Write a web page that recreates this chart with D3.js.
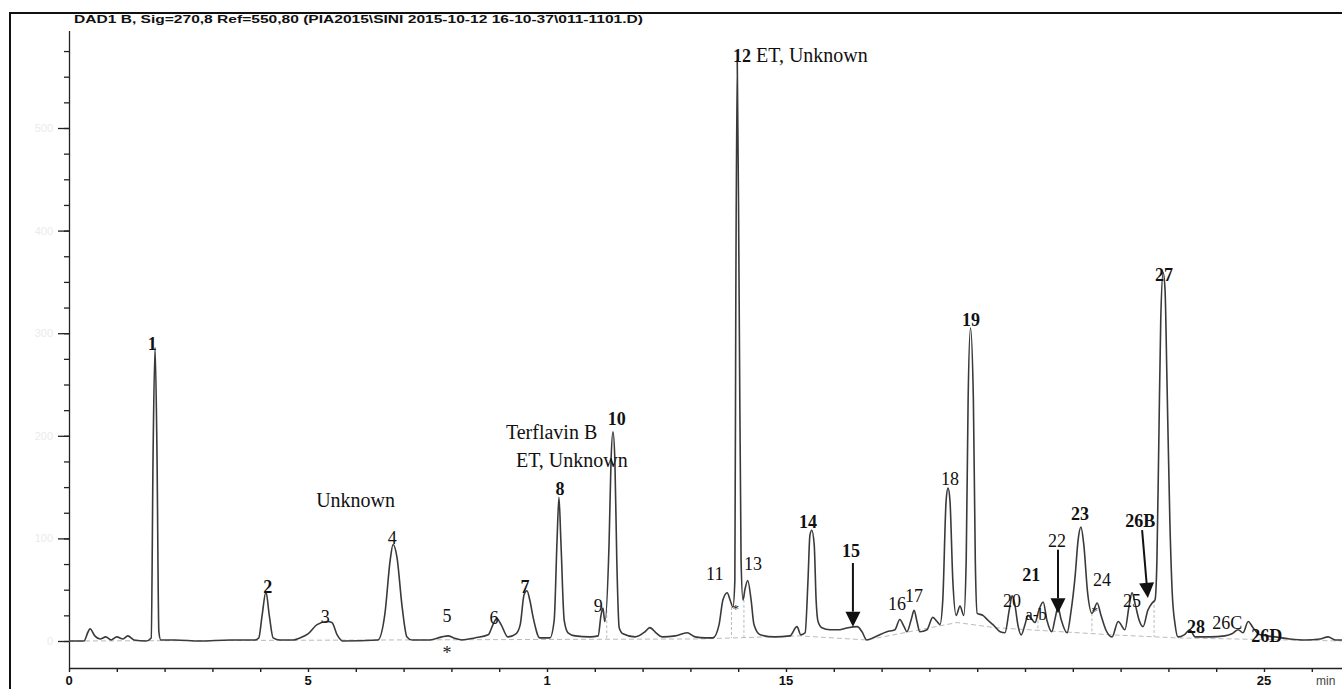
<!DOCTYPE html>
<html>
<head>
<meta charset="utf-8">
<script src="https://cdn.jsdelivr.net/npm/d3@7"></script>
<style>
  body { margin: 0; background: #fff; }
  svg { display: block; }
</style>
</head>
<body>
<script>
// chromatogram: retention time (min) / detector signal (mAU-ish, 100 per major tick)
var rt = [0, 0.31, 0.40, 0.44, 0.54, 0.65, 0.77, 0.88, 1.00, 1.13, 1.23, 1.36, 1.61, 1.72, 1.76, 1.80, 1.84, 1.88, 1.92, 2.22,
  2.74, 3.37, 3.89, 3.97, 4.04, 4.12, 4.19, 4.27, 4.41, 4.69, 4.83, 5.00, 5.19, 5.40, 5.50, 5.61, 5.73, 6.46, 6.61, 6.72,
  6.78, 6.86, 6.97, 7.07, 7.18, 7.55, 7.80, 7.93, 8.05, 8.22, 8.49, 8.77, 8.87, 8.95, 9.04, 9.18, 9.35, 9.44, 9.52, 9.58,
  9.64, 9.71, 9.85, 10.06, 10.15, 10.21, 10.25, 10.29, 10.36, 10.44, 10.59, 10.90, 11.07, 11.13, 11.17, 11.21, 11.30, 11.34, 11.38, 11.42,
  11.46, 11.51, 11.59, 11.84, 12.05, 12.15, 12.28, 12.41, 12.68, 12.93, 13.10, 13.31, 13.47, 13.60, 13.68, 13.77, 13.83, 13.89, 13.93, 13.95,
  13.98, 14.02, 14.06, 14.10, 14.14, 14.20, 14.27, 14.33, 14.46, 14.77, 15.08, 15.23, 15.31, 15.40, 15.46, 15.50, 15.54, 15.59, 15.63, 15.67,
  15.75, 15.92, 16.13, 16.30, 16.49, 16.59, 16.69, 16.86, 17.11, 17.28, 17.38, 17.47, 17.53, 17.62, 17.68, 17.74, 17.80, 17.95, 18.07, 18.16,
  18.22, 18.28, 18.35, 18.39, 18.43, 18.49, 18.56, 18.64, 18.72, 18.77, 18.81, 18.86, 18.92, 18.96, 19.00, 19.12, 19.23, 19.33, 19.48, 19.58,
  19.67, 19.73, 19.79, 19.85, 19.92, 20.00, 20.06, 20.13, 20.21, 20.29, 20.38, 20.46, 20.56, 20.63, 20.69, 20.75, 20.88, 20.96, 21.05, 21.11,
  21.17, 21.23, 21.31, 21.40, 21.51, 21.59, 21.69, 21.82, 21.95, 22.09, 22.18, 22.24, 22.31, 22.39, 22.47, 22.57, 22.66, 22.72, 22.76, 22.80,
  22.84, 22.89, 22.93, 22.97, 23.03, 23.08, 23.14, 23.20, 23.33, 23.45, 23.56, 23.87, 24.18, 24.33, 24.46, 24.56, 24.67, 24.77, 24.92, 25.23,
  25.54, 25.86, 26.17, 26.34, 26.49, 26.63];
var signal = [0, 0, 9, 12, 5, 2, 4, 1, 4, 2, 5, 1, 0, 3, 186, 286, 186, 9, 1, 1,
  0, 1, 1, 3, 25, 48, 25, 3, 1, 1, 3, 7, 16, 19, 18, 6, 0, 1, 27, 79,
  94, 82, 33, 4, 1, 1, 4, 5, 3, 1, 3, 6, 16, 22, 16, 4, 7, 16, 45, 49,
  40, 23, 3, 3, 20, 98, 140, 98, 20, 8, 5, 4, 5, 25, 32, 19, 98, 176, 204, 176,
  79, 13, 7, 4, 9, 13, 8, 4, 5, 8, 4, 3, 3, 16, 40, 47, 40, 33, 59, 332,
  566, 332, 79, 40, 50, 59, 40, 16, 6, 4, 5, 14, 6, 8, 59, 103, 108, 94, 40, 19,
  13, 11, 11, 13, 14, 9, 1, 4, 9, 11, 21, 14, 9, 21, 30, 19, 9, 11, 23, 19,
  16, 40, 137, 149, 137, 59, 25, 34, 25, 79, 235, 305, 235, 79, 27, 25, 20, 16, 9, 8,
  30, 44, 35, 16, 6, 16, 25, 22, 18, 30, 38, 20, 9, 22, 33, 22, 8, 28, 64, 98,
  111, 94, 47, 27, 37, 25, 11, 4, 19, 11, 35, 47, 35, 20, 14, 30, 37, 40, 79, 196,
  313, 359, 342, 254, 118, 47, 16, 4, 6, 11, 4, 4, 5, 7, 11, 8, 19, 13, 6, 4,
  2, 1, 2, 4, 1, 1];

// integration baseline drawn by the software
var baseRt = [0, 13.2, 15.29, 16.69, 18.58, 19.37, 21.82, 23.2, 26.63];
var baseVal = [0, 2, 5, 1, 18, 13, 6, 3, 0];

// faint drop lines [rt, top, bottom]
var drops = [[11.25, 30, 2], [13.86, 38, 3], [14.12, 45, 3], [20.27, 25, 10], [21.40, 27, 7], [22.70, 40, 4]];

// peak labels: text, rt, signal at label baseline
var peakNames = ["1", "2", "3", "4", "5", "6", "7", "8", "9", "10", "11", "13", "14", "15", "16", "17", "18", "19",
  "20", "21", "a-b", "22", "23", "24", "25", "26B", "27", "28", "26C", "26D"];
var peakRt = [1.74, 4.16, 5.36, 6.76, 7.91, 8.89, 9.54, 10.27, 11.07, 11.46, 13.51, 14.31, 15.46, 16.36, 17.32, 17.68, 18.43, 18.87,
  19.73, 20.13, 20.23, 20.67, 21.15, 21.61, 22.24, 22.41, 22.91, 23.58, 24.23, 25.06];
var peakVal = [284, 47, 18, 95, 19, 17, 47, 142, 28, 211, 59, 69, 110, 82, 30, 38, 152, 307,
  33, 58, 20, 92, 118, 54, 33, 111, 351, 8, 12, -1];
var boldNames = ["1", "2", "7", "8", "10", "14", "15", "19", "21", "23", "26B", "27", "28", "26D"];

// compound notes
var noteText = ["Unknown", "Terflavin B", "ET, Unknown"];
var noteRt = [5.17, 9.14, 9.35];
var noteVal = [131, 197, 170];

// asterisks [rt, signal, big?]
var stars = [[7.91, -18, 1], [13.95, 27, 0], [21.46, 25, 0]];

// arrows [rt from, signal from, rt to, signal to]
var arrows = [[16.40, 76, 16.40, 14], [20.69, 89, 20.69, 27], [22.45, 108, 22.57, 42]];

var xTicks = d3.range(0, 27, 1);
var xTickText = [[0, "0"], [5, "5"], [10, "1"], [15, "15"], [25, "25"]];
var yMinor = d3.range(0, 600, 25);
var yMajor = d3.range(0, 600, 100);

var title = "DAD1 B, Sig=270,8 Ref=550,80 (PIA2015\\SINI 2015-10-12 16-10-37\\011-1101.D)";

var w = 1342, h = 689;
var svg = d3.select("body").append("svg").attr("width", w).attr("height", h);

var x = d3.scaleLinear().domain([0, 25]).range([69, 1264]);
var y = d3.scaleLinear().domain([0, 100]).range([641, 538.4]);
var yAxisScale = y.copy().domain([-26.3, 595]).range([y(-26.3), y(595)]);

// frame
svg.append("path")
  .attr("d", "M10,689V13H" + w)
  .attr("fill", "none").attr("stroke", "#111").attr("stroke-width", 2);

svg.append("text")
  .attr("x", 74).attr("y", 23)
  .attr("font-family", "Liberation Sans, Arial, sans-serif")
  .attr("font-weight", "bold").attr("font-size", 11.6)
  .attr("textLength", 569).attr("lengthAdjust", "spacingAndGlyphs")
  .attr("fill", "#111")
  .text(title);

// y axis (labels are only smudges on the scan)
svg.append("g").attr("transform", "translate(69,0)")
  .call(d3.axisLeft(yAxisScale).tickValues(yMinor).tickSize(5).tickSizeOuter(0).tickFormat(""));
svg.append("g").attr("transform", "translate(69,0)")
  .call(d3.axisLeft(yAxisScale).tickValues(yMajor).tickSize(11).tickSizeOuter(0).tickFormat(function(d) { return d; }))
  .call(function(g) { g.select(".domain").remove(); })
  .selectAll("text").attr("fill", "#ebebeb").attr("font-size", 11).attr("x", -16);
svg.selectAll(".tick line, .domain").attr("stroke", "#222").attr("stroke-width", 1.3);

// x axis
var xa = d3.scaleLinear().domain([0, 26.63]).range([x(0), x(26.63)]);
var xg = svg.append("g").attr("transform", "translate(0,668)")
  .call(d3.axisBottom(xa).tickValues(xTicks).tickSize(4).tickSizeOuter(0).tickFormat(""));
xg.selectAll("line, path").attr("stroke", "#222").attr("stroke-width", 1.4);
svg.append("g").selectAll("text").data(xTickText).enter().append("text")
  .attr("x", function(d) { return x(d[0]); }).attr("y", 685)
  .attr("text-anchor", "middle")
  .attr("font-family", "Liberation Sans, Arial, sans-serif")
  .attr("font-weight", "bold").attr("font-size", 13).attr("fill", "#111")
  .text(function(d) { return d[1]; });
svg.append("text").attr("x", 1316).attr("y", 685)
  .attr("font-family", "Liberation Sans, Arial, sans-serif")
  .attr("font-size", 12).attr("fill", "#444").text("min");

// integration baseline + drops
svg.append("path")
  .datum(d3.zip(baseRt, baseVal))
  .attr("d", d3.line().x(function(d) { return x(d[0]); }).y(function(d) { return y(d[1]); }))
  .attr("fill", "none").attr("stroke", "#bbb").attr("stroke-width", 1).attr("stroke-dasharray", "5,3");
svg.append("g").selectAll("line").data(drops).enter().append("line")
  .attr("x1", function(d) { return x(d[0]); }).attr("x2", function(d) { return x(d[0]); })
  .attr("y1", function(d) { return y(d[1]); }).attr("y2", function(d) { return y(d[2]); })
  .attr("stroke", "#bbb").attr("stroke-width", 1).attr("stroke-dasharray", "3,2");

// trace
svg.append("path")
  .datum(d3.zip(rt, signal))
  .attr("d", d3.line().curve(d3.curveMonotoneX)
    .x(function(d) { return x(d[0]); }).y(function(d) { return y(d[1]); }))
  .attr("fill", "none").attr("stroke", "#3a3a3a").attr("stroke-width", 1.6)
  .attr("stroke-linejoin", "round");

// arrows
arrows.forEach(function(a) {
  var x1 = x(a[0]), y1 = y(a[1]), x2 = x(a[2]), y2 = y(a[3]);
  var ang = Math.atan2(y2 - y1, x2 - x1), len = 15, hw = 7.5;
  var bx = x2 - len * Math.cos(ang), by = y2 - len * Math.sin(ang);
  svg.append("line").attr("x1", x1).attr("y1", y1).attr("x2", bx).attr("y2", by)
    .attr("stroke", "#111").attr("stroke-width", 2);
  svg.append("path")
    .attr("d", "M" + x2 + "," + y2 +
      "L" + (bx + hw * Math.sin(ang)) + "," + (by - hw * Math.cos(ang)) +
      "L" + (bx - hw * Math.sin(ang)) + "," + (by + hw * Math.cos(ang)) + "Z")
    .attr("fill", "#111");
});

var serif = "Liberation Serif, Times New Roman, serif";

// peak labels
svg.append("g").selectAll("text").data(peakNames).enter().append("text")
  .attr("x", function(d, i) { return x(peakRt[i]); })
  .attr("y", function(d, i) { return y(peakVal[i]); })
  .attr("text-anchor", "middle")
  .attr("font-family", serif)
  .attr("font-size", function(d) { return d === "a-b" ? 17 : 18; })
  .attr("font-weight", function(d) { return boldNames.indexOf(d) >= 0 ? "bold" : "normal"; })
  .attr("fill", "#111")
  .text(function(d) { return d; });

// peak 12 with its note
var t12 = svg.append("text").attr("x", x(13.89)).attr("y", y(564))
  .attr("font-family", serif).attr("font-size", 18).attr("fill", "#111");
t12.append("tspan").attr("font-weight", "bold").text("12");
t12.append("tspan").attr("font-size", 20).text(" ET, Unknown");

svg.append("g").selectAll("text").data(noteText).enter().append("text")
  .attr("x", function(d, i) { return x(noteRt[i]); })
  .attr("y", function(d, i) { return y(noteVal[i]); })
  .attr("font-family", serif).attr("font-size", 20).attr("fill", "#111")
  .text(function(d) { return d; });

svg.append("g").selectAll("text").data(stars).enter().append("text")
  .attr("x", function(d) { return x(d[0]); })
  .attr("y", function(d) { return y(d[1]); })
  .attr("text-anchor", "middle")
  .attr("font-family", serif)
  .attr("font-size", function(d) { return d[2] ? 18 : 13; })
  .attr("fill", "#222")
  .text("*");
</script>
</body>
</html>
